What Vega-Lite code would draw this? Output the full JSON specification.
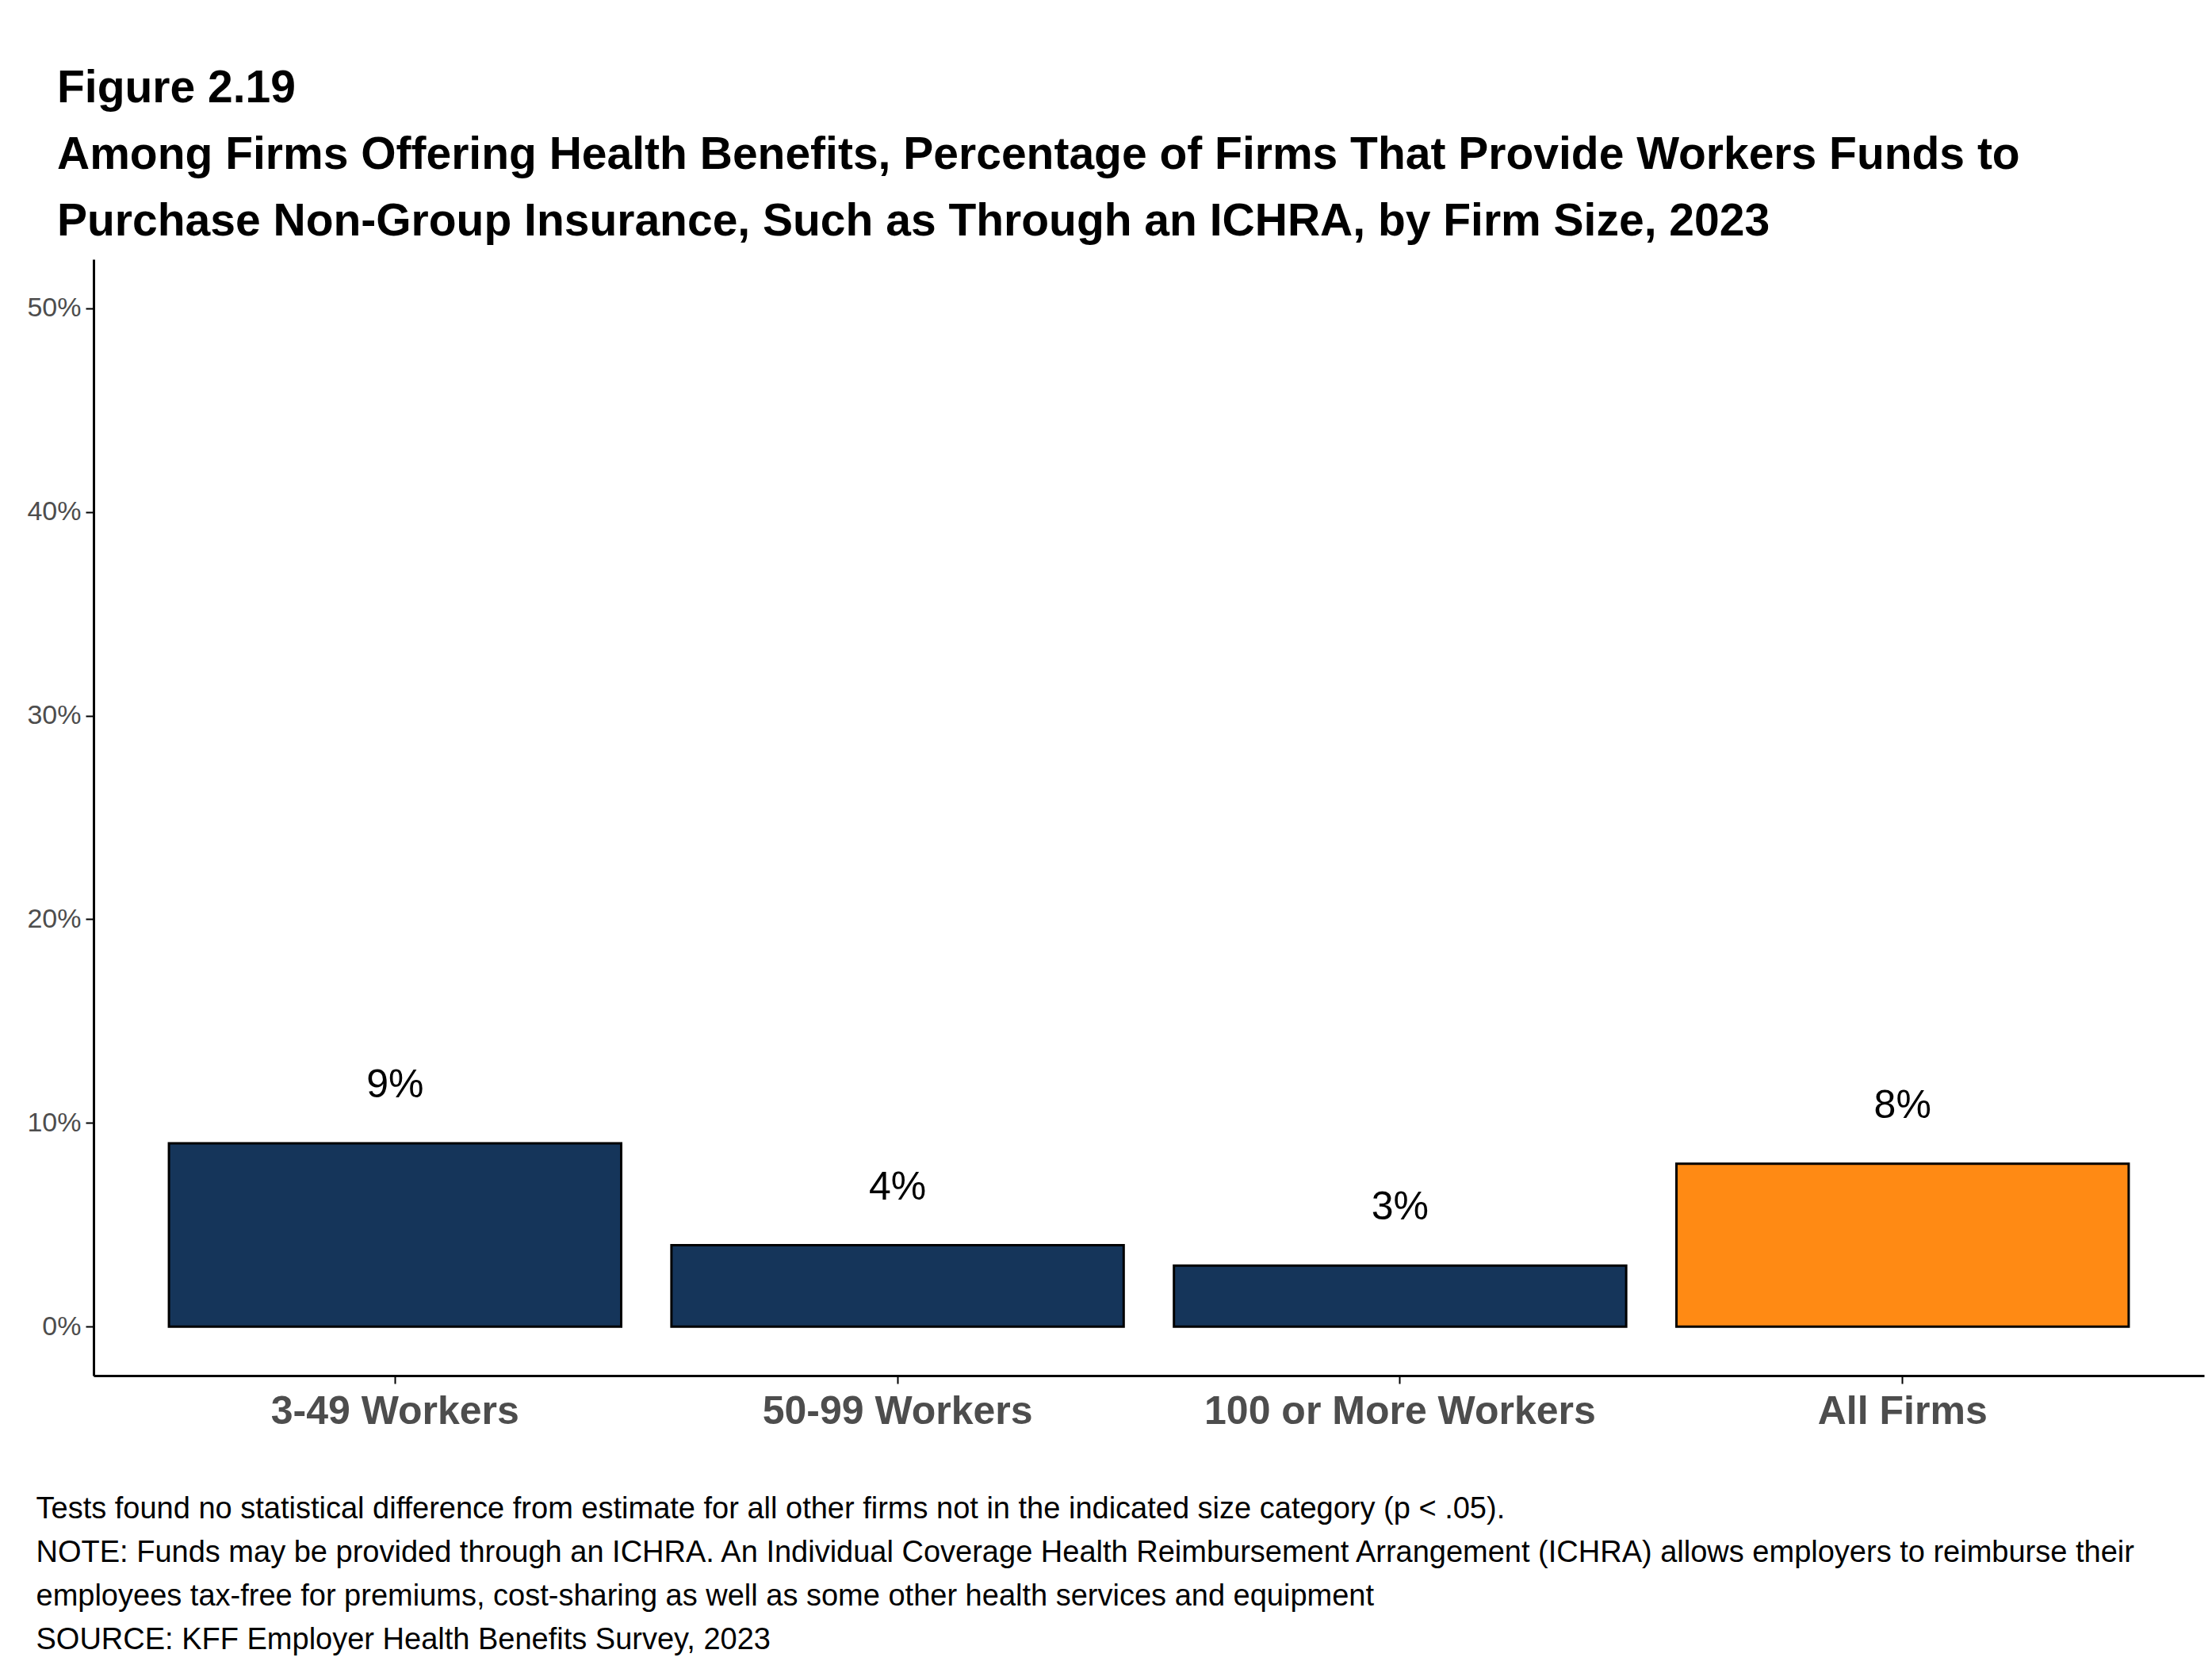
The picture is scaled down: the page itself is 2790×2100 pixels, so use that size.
{
  "$schema": "https://vega.github.io/schema/vega-lite/v6.json",
  "width": 2662,
  "height": 1408,
  "autosize": {"type": "none"},
  "padding": {"left": 118, "top": 327, "right": 10, "bottom": 365},
  "background": "white",
  "title": {
    "text": ["Figure 2.19", "Among Firms Offering Health Benefits, Percentage of Firms That Provide Workers Funds to", "Purchase Non-Group Insurance, Such as Through an ICHRA, by Firm Size, 2023"],
    "anchor": "start",
    "frame": "group",
    "dx": -46,
    "offset": 18,
    "fontSize": 57,
    "lineHeight": 84,
    "font": "Liberation Sans",
    "fontWeight": "bold",
    "color": "black"
  },
  "data": {
    "values": [
      {"size": "3-49 Workers", "pct": 9, "group": "size"},
      {"size": "50-99 Workers", "pct": 4, "group": "size"},
      {"size": "100 or More Workers", "pct": 3, "group": "size"},
      {"size": "All Firms", "pct": 8, "group": "all"}
    ]
  },
  "transform": [{"calculate": "datum.pct + '%'", "as": "label"}],
  "encoding": {
    "x": {
      "field": "size",
      "type": "nominal",
      "sort": null,
      "scale": {"paddingInner": 0.1, "paddingOuter": 0.15},
      "axis": {
        "labelAngle": 0,
        "labelLimit": 0,
        "labelFont": "Liberation Sans",
        "labelFontSize": 50,
        "labelFontWeight": "bold",
        "labelColor": "#4d4d4d",
        "labelPadding": 10,
        "domainColor": "black",
        "domainWidth": 3,
        "tickColor": "black",
        "tickWidth": 2,
        "tickSize": 10,
        "title": ["Tests found no statistical difference from estimate for all other firms not in the indicated size category (p < .05).", "NOTE: Funds may be provided through an ICHRA. An Individual Coverage Health Reimbursement Arrangement (ICHRA) allows employers to reimburse their", "employees tax-free for premiums, cost-sharing as well as some other health services and equipment", "SOURCE: KFF Employer Health Benefits Survey, 2023"],
        "titleFont": "Liberation Sans",
        "titleFontSize": 38,
        "titleFontWeight": "normal",
        "titleColor": "black",
        "titleLineHeight": 55,
        "titleAnchor": "start",
        "titleAlign": "left",
        "titleBaseline": "alphabetic",
        "titleX": -73,
        "titleY": 179
      }
    },
    "y": {
      "field": "pct",
      "type": "quantitative",
      "scale": {"domain": [-2.4, 52.4], "nice": false, "zero": false},
      "axis": {
        "values": [0, 10, 20, 30, 40, 50],
        "labelExpr": "datum.value + '%'",
        "labelFont": "Liberation Sans",
        "labelFontSize": 34,
        "labelColor": "#4d4d4d",
        "labelPadding": 6,
        "grid": false,
        "domainColor": "black",
        "domainWidth": 3,
        "tickColor": "black",
        "tickWidth": 2,
        "tickSize": 10,
        "title": null
      }
    }
  },
  "layer": [
    {
      "mark": {"type": "bar", "stroke": "black", "strokeWidth": 3},
      "encoding": {
        "y2": {"datum": 0},
        "color": {
          "field": "group",
          "type": "nominal",
          "scale": {"domain": ["size", "all"], "range": ["#15355a", "#ff8a14"]},
          "legend": null
        }
      }
    },
    {
      "mark": {"type": "text", "dy": -73, "fontSize": 50, "font": "Liberation Sans", "color": "black"},
      "encoding": {
        "text": {"field": "label", "type": "nominal"}
      }
    }
  ],
  "config": {"view": {"stroke": null}}
}
